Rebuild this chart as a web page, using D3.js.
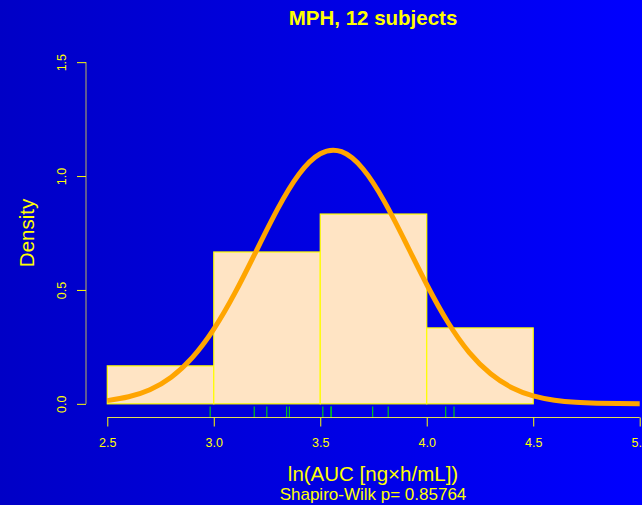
<!DOCTYPE html>
<html>
<head>
<meta charset="utf-8">
<script src="https://cdn.jsdelivr.net/npm/d3@7"></script>
<style>
  body { margin: 0; padding: 0; overflow: hidden; }
  svg text { font-family: "Liberation Sans", Arial, sans-serif; fill: yellow; }
</style>
</head>
<body>
<div id="chart"></div>
<script>
// histogram breaks and density of each bin
const breaks = [2.5, 3.0, 3.5, 4.0, 4.5];
const densities = [0.1667, 0.6667, 0.8333, 0.3333];

// rug: the 12 log-AUC values
const rugValues = [2.983, 3.190, 3.249, 3.342, 3.355, 3.512, 3.551, 3.551, 3.746, 3.819, 4.089, 4.128];

// fitted curve
const curveX = [2.5, 2.6, 2.7, 2.8, 2.9, 3.0, 3.1, 3.2, 3.3, 3.4, 3.5, 3.6, 3.7,
  3.8, 3.9, 4.0, 4.1, 4.2, 4.3, 4.4, 4.5, 4.6, 4.7, 4.8, 4.9, 5.0];
const curveY = [0.014, 0.031, 0.062, 0.117, 0.204, 0.328, 0.488, 0.672, 0.856, 1.008,
  1.098, 1.107, 1.032, 0.890, 0.710, 0.524, 0.357, 0.225, 0.132, 0.071, 0.035,
  0.016, 0.007, 0.003, 0.001, 0.0003];

const xTicks = [2.5, 3.0, 3.5, 4.0, 4.5, 5.0];
const yTicks = [0.0, 0.5, 1.0, 1.5];

const W = 642, H = 505;
const svg = d3.select("#chart").append("svg")
  .attr("width", W).attr("height", H);

// background gradient
const grad = svg.append("defs").append("linearGradient")
  .attr("id", "bg").attr("x1", "0%").attr("x2", "100%").attr("y1", "0%").attr("y2", "0%");
grad.append("stop").attr("offset", "0%").attr("stop-color", "#0000c6");
grad.append("stop").attr("offset", "100%").attr("stop-color", "#0000ff");
svg.append("rect").attr("width", W).attr("height", H).attr("fill", "url(#bg)");

// plot region (R style, 4% padding)
const x = d3.scaleLinear().domain([2.4, 5.1]).range([86, 661]);
const y = d3.scaleLinear().domain([-0.06, 1.56]).range([417.5, 48.5]);

// bars
svg.append("g").selectAll("rect")
  .data(densities)
  .enter()
  .append("rect")
  .attr("x", (d, i) => x(breaks[i]))
  .attr("y", d => y(d))
  .attr("width", (d, i) => x(breaks[i + 1]) - x(breaks[i]))
  .attr("height", d => y(0) - y(d))
  .attr("fill", "#ffe4c4")
  .attr("stroke", "yellow")
  .attr("stroke-width", 1.2);

// curve
const pts = curveX.map((v, i) => [v, curveY[i]]);
svg.append("path")
  .datum(pts)
  .attr("d", d3.line().x(d => x(d[0])).y(d => y(d[1])).curve(d3.curveNatural))
  .attr("fill", "none")
  .attr("stroke", "#ffa500")
  .attr("stroke-width", 5)
  .attr("stroke-linejoin", "round");

// x axis
const xAxis = svg.append("g")
  .attr("transform", "translate(0,417.5)")
  .call(d3.axisBottom(x).tickValues(xTicks).tickFormat(d3.format(".1f"))
    .tickSizeInner(9).tickSizeOuter(0).tickPadding(12));
xAxis.select(".domain").attr("d", `M${x(2.5)},0H${x(5.0)}`).attr("stroke", "#e0dc50");
xAxis.selectAll(".tick line").attr("stroke", "yellow");
xAxis.selectAll(".tick text").attr("font-size", 12.5).attr("fill", "yellow")
  .style("font-family", "Liberation Sans, Arial, sans-serif");

// rug
svg.append("g").selectAll("line")
  .data(rugValues)
  .enter()
  .append("line")
  .attr("x1", d => x(d)).attr("x2", d => x(d))
  .attr("y1", 406.5).attr("y2", 417)
  .attr("stroke", "#00c020")
  .attr("stroke-width", 1.2);

// y axis
const yAxis = svg.append("g")
  .attr("transform", "translate(86,0)")
  .call(d3.axisLeft(y).tickValues(yTicks).tickFormat(d3.format(".1f"))
    .tickSizeInner(9).tickSizeOuter(0));
yAxis.select(".domain").attr("d", `M0,${y(0)}V${y(1.5)}`).attr("stroke", "#bdb65a");
yAxis.selectAll(".tick line").attr("stroke", "yellow");
yAxis.selectAll(".tick text")
  .attr("x", null).attr("dy", null)
  .attr("text-anchor", "middle")
  .attr("transform", "translate(-20,0) rotate(-90)")
  .attr("font-size", 12.5).attr("fill", "yellow")
  .style("font-family", "Liberation Sans, Arial, sans-serif");

// titles
svg.append("text")
  .attr("x", 373).attr("y", 25)
  .attr("text-anchor", "middle")
  .attr("font-size", 20.5).attr("font-weight", "bold")
  .text("MPH, 12 subjects");

svg.append("text")
  .attr("x", 373).attr("y", 481)
  .attr("text-anchor", "middle")
  .attr("font-size", 20.5)
  .text("ln(AUC [ng\u00d7h/mL])");

svg.append("text")
  .attr("x", 373).attr("y", 500)
  .attr("text-anchor", "middle")
  .attr("font-size", 17)
  .text("Shapiro-Wilk p= 0.85764");

svg.append("text")
  .attr("transform", "translate(34,233) rotate(-90)")
  .attr("text-anchor", "middle")
  .attr("font-size", 20.5)
  .text("Density");
</script>
</body>
</html>
